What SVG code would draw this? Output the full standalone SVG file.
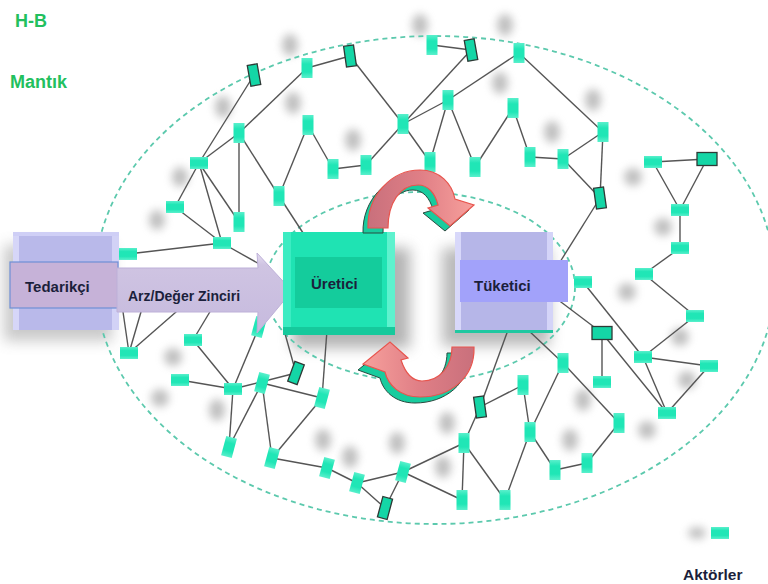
<svg xmlns="http://www.w3.org/2000/svg" width="768" height="584" viewBox="0 0 768 584">
<defs>
<filter id="blur" x="-100%" y="-100%" width="300%" height="300%"><feGaussianBlur stdDeviation="4"/></filter>
<filter id="blurBig" x="-50%" y="-50%" width="200%" height="200%"><feGaussianBlur stdDeviation="7"/></filter>
<linearGradient id="redTop" x1="0" y1="0" x2="1" y2="0"><stop offset="0" stop-color="#c9707c"/><stop offset="0.5" stop-color="#e07f86"/><stop offset="1" stop-color="#f7a09c"/></linearGradient>
<linearGradient id="redBot" x1="1" y1="0" x2="0" y2="0"><stop offset="0" stop-color="#c9707c"/><stop offset="0.5" stop-color="#e07f86"/><stop offset="1" stop-color="#f7a09c"/></linearGradient>
<linearGradient id="arrowG" x1="0" y1="0" x2="0" y2="1"><stop offset="0" stop-color="#e6def2"/><stop offset="0.15" stop-color="#cfc4e2"/><stop offset="1" stop-color="#c6bade"/></linearGradient>
<linearGradient id="nodeG" x1="0" y1="0" x2="0" y2="1"><stop offset="0" stop-color="#5af0cc"/><stop offset="0.3" stop-color="#20e6b6"/><stop offset="0.7" stop-color="#20e6b6"/><stop offset="1" stop-color="#5af0cc"/></linearGradient>
</defs>
<style>
.sh{fill:#8c8c8c;opacity:0.55;filter:url(#blur)}
.ell{fill:none;stroke:#5cc9ad;stroke-width:1.8;stroke-dasharray:5 4}
.e{stroke:#555;stroke-width:1.4;fill:none}
.lt{fill:url(#nodeG)}
.dk{fill:#14d6a6;stroke:#2e3a36;stroke-width:1.3}
.lbl{font-family:"Liberation Sans",Arial,sans-serif;font-weight:bold;fill:#1b1f3b}
.grn{font-family:"Liberation Sans",Arial,sans-serif;font-weight:bold;fill:#22c05e;font-size:18px}
</style>
<rect width="768" height="584" fill="#ffffff"/>

<g id="shadows">
<ellipse class="sh" cx="290" cy="45" rx="8" ry="11"/><ellipse class="sh" cx="223" cy="107" rx="8" ry="11"/>
<ellipse class="sh" cx="293" cy="103" rx="8" ry="11"/><ellipse class="sh" cx="353" cy="140" rx="8" ry="11"/>
<ellipse class="sh" cx="180" cy="177" rx="8" ry="10"/><ellipse class="sh" cx="157" cy="220" rx="8" ry="10"/>
<ellipse class="sh" cx="420" cy="25" rx="8" ry="11"/><ellipse class="sh" cx="505" cy="25" rx="8" ry="11"/>
<ellipse class="sh" cx="500" cy="83" rx="8" ry="11"/><ellipse class="sh" cx="552" cy="132" rx="8" ry="11"/>
<ellipse class="sh" cx="593" cy="100" rx="8" ry="11"/><ellipse class="sh" cx="633" cy="177" rx="9" ry="9"/>
<ellipse class="sh" cx="663" cy="227" rx="9" ry="9"/><ellipse class="sh" cx="627" cy="292" rx="9" ry="9"/>
<ellipse class="sh" cx="680" cy="337" rx="9" ry="9"/><ellipse class="sh" cx="173" cy="357" rx="9" ry="9"/>
<ellipse class="sh" cx="160" cy="398" rx="9" ry="9"/><ellipse class="sh" cx="217" cy="410" rx="8" ry="11"/>
<ellipse class="sh" cx="323" cy="440" rx="8" ry="11"/><ellipse class="sh" cx="350" cy="457" rx="8" ry="11"/>
<ellipse class="sh" cx="397" cy="443" rx="8" ry="11"/><ellipse class="sh" cx="447" cy="423" rx="8" ry="11"/>
<ellipse class="sh" cx="583" cy="400" rx="8" ry="11"/><ellipse class="sh" cx="570" cy="440" rx="8" ry="11"/>
<ellipse class="sh" cx="647" cy="430" rx="9" ry="9"/><ellipse class="sh" cx="687" cy="380" rx="9" ry="9"/>
<ellipse class="sh" cx="443" cy="467" rx="8" ry="11"/><ellipse class="sh" cx="697" cy="533" rx="9" ry="6"/>
<rect x="292" y="248" width="118" height="100" fill="#777" opacity="0.55" filter="url(#blurBig)"/>
<rect x="442" y="248" width="108" height="98" fill="#777" opacity="0.5" filter="url(#blurBig)"/>
<rect x="4" y="245" width="108" height="96" fill="#888" opacity="0.45" filter="url(#blurBig)"/>
</g>

<g id="boundaries">
<ellipse class="ell" cx="435" cy="280" rx="340" ry="244"/>
<ellipse class="ell" cx="420" cy="287" rx="155" ry="95"/>
</g>

<g id="connectors">
<line class="e" x1="254" y1="75" x2="199" y2="163"/>
<line class="e" x1="307" y1="68" x2="350" y2="56"/>
<line class="e" x1="307" y1="68" x2="239" y2="133"/>
<line class="e" x1="239" y1="133" x2="199" y2="163"/>
<line class="e" x1="199" y1="163" x2="175" y2="207"/>
<line class="e" x1="199" y1="163" x2="239" y2="222"/>
<line class="e" x1="199" y1="163" x2="222" y2="243"/>
<line class="e" x1="175" y1="207" x2="222" y2="243"/>
<line class="e" x1="239" y1="133" x2="239" y2="222"/>
<line class="e" x1="239" y1="133" x2="279" y2="196"/>
<line class="e" x1="279" y1="196" x2="308" y2="125"/>
<line class="e" x1="308" y1="125" x2="333" y2="169"/>
<line class="e" x1="333" y1="169" x2="366" y2="165"/>
<line class="e" x1="366" y1="165" x2="403" y2="124"/>
<line class="e" x1="350" y1="56" x2="403" y2="124"/>
<line class="e" x1="403" y1="124" x2="448" y2="100"/>
<line class="e" x1="403" y1="124" x2="471" y2="50"/>
<line class="e" x1="432" y1="45" x2="471" y2="50"/>
<line class="e" x1="403" y1="124" x2="430" y2="162"/>
<line class="e" x1="448" y1="100" x2="519" y2="53"/>
<line class="e" x1="519" y1="53" x2="603" y2="132"/>
<line class="e" x1="448" y1="100" x2="430" y2="162"/>
<line class="e" x1="448" y1="100" x2="475" y2="167"/>
<line class="e" x1="475" y1="167" x2="513" y2="108"/>
<line class="e" x1="513" y1="108" x2="530" y2="157"/>
<line class="e" x1="530" y1="157" x2="563" y2="159"/>
<line class="e" x1="563" y1="159" x2="603" y2="132"/>
<line class="e" x1="603" y1="132" x2="600" y2="198"/>
<line class="e" x1="563" y1="159" x2="600" y2="198"/>
<line class="e" x1="600" y1="198" x2="560" y2="262"/>
<line class="e" x1="279" y1="196" x2="305" y2="236"/>
<line class="e" x1="128" y1="254" x2="222" y2="243"/>
<line class="e" x1="222" y1="243" x2="270" y2="270"/>
<line class="e" x1="653" y1="162" x2="707" y2="159"/>
<line class="e" x1="653" y1="162" x2="680" y2="210"/>
<line class="e" x1="707" y1="159" x2="680" y2="210"/>
<line class="e" x1="680" y1="210" x2="680" y2="248"/>
<line class="e" x1="680" y1="248" x2="644" y2="274"/>
<line class="e" x1="644" y1="274" x2="695" y2="316"/>
<line class="e" x1="695" y1="316" x2="643" y2="357"/>
<line class="e" x1="583" y1="282" x2="643" y2="357"/>
<line class="e" x1="553" y1="296" x2="602" y2="333"/>
<line class="e" x1="602" y1="333" x2="602" y2="382"/>
<line class="e" x1="602" y1="333" x2="667" y2="413"/>
<line class="e" x1="643" y1="357" x2="667" y2="413"/>
<line class="e" x1="643" y1="357" x2="709" y2="366"/>
<line class="e" x1="709" y1="366" x2="667" y2="413"/>
<line class="e" x1="508" y1="330" x2="480" y2="407"/>
<line class="e" x1="528" y1="330" x2="563" y2="363"/>
<line class="e" x1="563" y1="363" x2="619" y2="423"/>
<line class="e" x1="563" y1="363" x2="530" y2="432"/>
<line class="e" x1="480" y1="407" x2="523" y2="385"/>
<line class="e" x1="523" y1="385" x2="530" y2="432"/>
<line class="e" x1="619" y1="423" x2="587" y2="463"/>
<line class="e" x1="587" y1="463" x2="555" y2="470"/>
<line class="e" x1="555" y1="470" x2="530" y2="432"/>
<line class="e" x1="530" y1="432" x2="505" y2="500"/>
<line class="e" x1="480" y1="407" x2="464" y2="443"/>
<line class="e" x1="464" y1="443" x2="462" y2="500"/>
<line class="e" x1="464" y1="443" x2="505" y2="500"/>
<line class="e" x1="464" y1="443" x2="403" y2="472"/>
<line class="e" x1="403" y1="472" x2="462" y2="500"/>
<line class="e" x1="129" y1="353" x2="122" y2="305"/>
<line class="e" x1="129" y1="353" x2="143" y2="305"/>
<line class="e" x1="129" y1="353" x2="184" y2="305"/>
<line class="e" x1="193" y1="340" x2="214" y2="305"/>
<line class="e" x1="193" y1="340" x2="233" y2="389"/>
<line class="e" x1="180" y1="380" x2="233" y2="389"/>
<line class="e" x1="233" y1="389" x2="296" y2="373"/>
<line class="e" x1="233" y1="389" x2="259" y2="327"/>
<line class="e" x1="233" y1="389" x2="229" y2="447"/>
<line class="e" x1="262" y1="383" x2="229" y2="447"/>
<line class="e" x1="262" y1="383" x2="322" y2="398"/>
<line class="e" x1="262" y1="383" x2="272" y2="458"/>
<line class="e" x1="296" y1="373" x2="284" y2="330"/>
<line class="e" x1="327" y1="330" x2="322" y2="398"/>
<line class="e" x1="322" y1="398" x2="272" y2="458"/>
<line class="e" x1="272" y1="458" x2="327" y2="468"/>
<line class="e" x1="327" y1="468" x2="357" y2="483"/>
<line class="e" x1="357" y1="483" x2="403" y2="472"/>
<line class="e" x1="357" y1="483" x2="385" y2="508"/>
<line class="e" x1="403" y1="472" x2="385" y2="508"/>
</g>

<g id="n1"><rect class="dk" x="249" y="64.5" width="10" height="21" transform="rotate(-10 254 75)"/></g>
<g id="n2"><rect class="lt" x="301.5" y="58" width="11" height="20"/></g>
<g id="n3"><rect class="dk" x="345" y="45.5" width="10" height="21" transform="rotate(-8 350 56)"/></g>
<g id="n4"><rect class="lt" x="426.5" y="35" width="11" height="20"/></g>
<g id="n5"><rect class="dk" x="466" y="39.5" width="10" height="21" transform="rotate(-10 471 50)"/></g>
<g id="n6"><rect class="lt" x="513.5" y="43" width="11" height="20"/></g>
<g id="n7"><rect class="lt" x="233.5" y="123" width="11" height="20"/></g>
<g id="n8"><rect class="lt" x="190" y="157" width="18" height="12"/></g>
<g id="n9"><rect class="lt" x="302.5" y="115" width="11" height="20"/></g>
<g id="n10"><rect class="lt" x="397.5" y="114" width="11" height="20"/></g>
<g id="n11"><rect class="lt" x="442.5" y="90" width="11" height="20"/></g>
<g id="n12"><rect class="lt" x="507.5" y="98" width="11" height="20"/></g>
<g id="n13"><rect class="lt" x="327.5" y="159" width="11" height="20"/></g>
<g id="n14"><rect class="lt" x="360.5" y="155" width="11" height="20"/></g>
<g id="n15"><rect class="lt" x="424.5" y="152" width="11" height="20"/></g>
<g id="n16"><rect class="lt" x="469.5" y="157" width="11" height="20"/></g>
<g id="n17"><rect class="lt" x="524.5" y="147" width="11" height="20"/></g>
<g id="n18"><rect class="lt" x="557.5" y="149" width="11" height="20"/></g>
<g id="n19"><rect class="lt" x="597.5" y="122" width="11" height="20"/></g>
<g id="n20"><rect class="lt" x="166" y="201" width="18" height="12"/></g>
<g id="n21"><rect class="lt" x="273.5" y="186" width="11" height="20"/></g>
<g id="n22"><rect class="lt" x="233.5" y="212" width="11" height="20"/></g>
<g id="n23"><rect class="lt" x="213" y="237" width="18" height="12"/></g>
<g id="n24"><rect class="lt" x="119" y="248" width="18" height="12"/></g>
<g id="n25"><rect class="dk" x="595" y="187.5" width="10" height="21" transform="rotate(-8 600 198)"/></g>
<g id="n26"><rect class="lt" x="644" y="156" width="18" height="12"/></g>
<g id="n27"><rect class="dk" x="697" y="152.5" width="20" height="13"/></g>
<g id="n28"><rect class="lt" x="671" y="204" width="18" height="12"/></g>
<g id="n29"><rect class="lt" x="671" y="242" width="18" height="12"/></g>
<g id="n30"><rect class="lt" x="635" y="268" width="18" height="12"/></g>
<g id="n31"><rect class="lt" x="574" y="276" width="18" height="12"/></g>
<g id="n32"><rect class="lt" x="686" y="310" width="18" height="12"/></g>
<g id="n33"><rect class="dk" x="592" y="326.5" width="20" height="13"/></g>
<g id="n34"><rect class="lt" x="634" y="351" width="18" height="12"/></g>
<g id="n35"><rect class="lt" x="700" y="360" width="18" height="12"/></g>
<g id="n36"><rect class="lt" x="658" y="407" width="18" height="12"/></g>
<g id="n37"><rect class="lt" x="593" y="376" width="18" height="12"/></g>
<g id="n38"><rect class="lt" x="557.5" y="353" width="11" height="20"/></g>
<g id="n39"><rect class="lt" x="517.5" y="375" width="11" height="20"/></g>
<g id="n40"><rect class="dk" x="475" y="396.5" width="10" height="21" transform="rotate(-8 480 407)"/></g>
<g id="n41"><rect class="lt" x="524.5" y="422" width="11" height="20"/></g>
<g id="n42"><rect class="lt" x="613.5" y="413" width="11" height="20"/></g>
<g id="n43"><rect class="lt" x="581.5" y="453" width="11" height="20"/></g>
<g id="n44"><rect class="lt" x="549.5" y="460" width="11" height="20"/></g>
<g id="n45"><rect class="lt" x="458.5" y="433" width="11" height="20"/></g>
<g id="n46"><rect class="lt" x="397.5" y="462" width="11" height="20" transform="rotate(15 403 472)"/></g>
<g id="n47"><rect class="lt" x="456.5" y="490" width="11" height="20"/></g>
<g id="n48"><rect class="lt" x="499.5" y="490" width="11" height="20"/></g>
<g id="n49"><rect class="lt" x="351.5" y="473" width="11" height="20" transform="rotate(15 357 483)"/></g>
<g id="n50"><rect class="dk" x="380" y="497.5" width="10" height="21" transform="rotate(15 385 508)"/></g>
<g id="n51"><rect class="lt" x="321.5" y="458" width="11" height="20" transform="rotate(15 327 468)"/></g>
<g id="n52"><rect class="lt" x="266.5" y="448" width="11" height="20" transform="rotate(15 272 458)"/></g>
<g id="n53"><rect class="lt" x="223.5" y="437" width="11" height="20" transform="rotate(15 229 447)"/></g>
<g id="n54"><rect class="lt" x="256.5" y="373" width="11" height="20" transform="rotate(15 262 383)"/></g>
<g id="n55"><rect class="dk" x="291" y="362.5" width="10" height="21" transform="rotate(20 296 373)"/></g>
<g id="n56"><rect class="lt" x="316.5" y="388" width="11" height="20" transform="rotate(15 322 398)"/></g>
<g id="n57"><rect class="lt" x="224" y="383" width="18" height="12"/></g>
<g id="n58"><rect class="lt" x="171" y="374" width="18" height="12"/></g>
<g id="n59"><rect class="lt" x="184" y="334" width="18" height="12"/></g>
<g id="n60"><rect class="lt" x="120" y="347" width="18" height="12"/></g>
<g id="n61"><rect class="lt" x="253.5" y="317" width="11" height="20" transform="rotate(15 259 327)"/></g>

<g id="tedarikci">
<rect x="13" y="232" width="106" height="98" fill="#b9b9ea"/>
<rect x="13" y="232" width="6" height="98" fill="#d6d6f8"/>
<rect x="112" y="232" width="7" height="98" fill="#d2d2f6"/>
<rect x="13" y="232" width="106" height="4" fill="#cfcff6"/>
<rect x="10" y="262" width="108" height="46" fill="#c6b2d8" stroke="#6e8fd6" stroke-width="1.2"/>
<text class="lbl" x="25" y="292" font-size="15">Tedarikçi</text>
</g>

<g id="arz-deger-zinciri">
<path d="M117,268 L258,268 L257,253 L292,291 L257,333 L258,312 L117,312 Z" fill="url(#arrowG)" stroke="#bdb0d8" stroke-width="1"/>
<text class="lbl" x="128" y="301" font-size="14">Arz/Değer Zinciri</text>
</g>

<g id="uretici">
<rect x="283" y="232" width="112" height="103" fill="#1fe3b3"/>
<rect x="283" y="232" width="8" height="103" fill="#3cecc2"/>
<rect x="387" y="232" width="8" height="103" fill="#5ef2ce"/>
<rect x="283" y="327" width="112" height="8" fill="#16c99c"/>
<rect x="295" y="257" width="87" height="51" fill="#14cc9c"/>
<text class="lbl" x="311" y="289" font-size="15">Üretici</text>
</g>

<g id="tuketici">
<rect x="455" y="232" width="98" height="101" fill="#b6b6e8"/>
<rect x="455" y="232" width="6" height="101" fill="#d8d8fa"/>
<rect x="547" y="232" width="6" height="101" fill="#d4d4f8"/>
<rect x="455" y="330" width="98" height="3" fill="#20c8a0"/>
<rect x="460" y="260" width="108" height="42" fill="#a2a2fa"/>
<text class="lbl" x="474" y="291" font-size="15">Tüketici</text>
</g>

<g id="cycle-top">
<path d="M368,228 C367,195 392,170 420,170 C440,170 452,184 455,199 L474,205 L450,226 L428,208 L438,205 C435,193 428,185 418,185 C400,185 388,203 388,228 Z" transform="translate(-5,5)" fill="#18cc9e" stroke="#2b4a40" stroke-width="1"/>
<path d="M368,228 C367,195 392,170 420,170 C440,170 452,184 455,199 L474,205 L450,226 L428,208 L438,205 C435,193 428,185 418,185 C400,185 388,203 388,228 Z" fill="url(#redTop)" stroke="#e8554e" stroke-width="1.2"/>
</g>
<g id="cycle-bottom">
<path d="M474,347 C475,378 450,397 420,397 C400,397 388,385 385,372 L363,364 L390,342 L408,358 L401,360 C405,372 412,381 422,381 C440,381 452,366 452,347 Z" transform="translate(-5,6)" fill="#18cc9e" stroke="#2b4a40" stroke-width="1"/>
<path d="M474,347 C475,378 450,397 420,397 C400,397 388,385 385,372 L363,364 L390,342 L408,358 L401,360 C405,372 412,381 422,381 C440,381 452,366 452,347 Z" fill="url(#redBot)" stroke="#e8554e" stroke-width="1.2"/>
</g>

<g id="title">
<text class="grn" x="15" y="27">H-B</text>
<text class="grn" x="10" y="88">Mantık</text>
</g>

<g id="legend">
<g id="n62"><rect class="lt" x="711" y="527" width="18" height="12"/></g>
<text class="lbl" x="683" y="580" font-size="15.5">Aktörler</text>
</g>
</svg>
